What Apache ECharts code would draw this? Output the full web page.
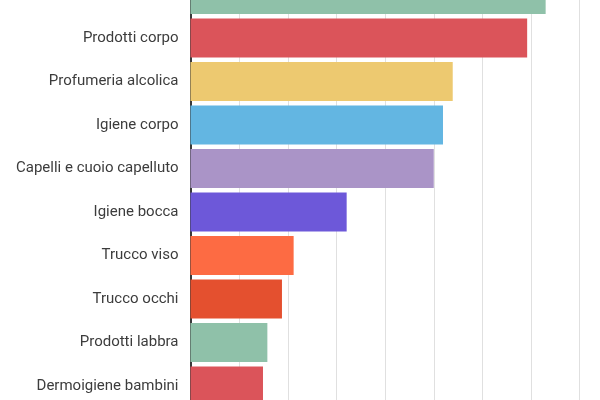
<!DOCTYPE html>
<html>
<head>
<meta charset="utf-8">
<script src="https://cdn.jsdelivr.net/npm/echarts@6/dist/echarts.min.js"></script>
<style>
html,body{margin:0;padding:0;width:600px;height:400px;overflow:hidden;background:#fff;}
#c{position:absolute;left:0;top:-40px;width:600px;height:480px;}
</style>
</head>
<body>
<div id="c"></div>
<script>
const categories = ["Prodotti viso","Prodotti corpo","Profumeria alcolica","Igiene corpo","Capelli e cuoio capelluto","Igiene bocca","Trucco viso","Trucco occhi","Prodotti labbra","Dermoigiene bambini"];
const values = [1460,1384,1078,1038,1000,642,424,376,316,298];
const palette = ["#8fc1a9","#db545a","#edc970","#63b6e2","#aa94c7","#6d58d9","#fd6b43","#e4502f"];

const chart = echarts.init(document.getElementById('c'), null, {renderer:'canvas'});
chart.setOption({
  animation:false,
  grid:{left:190.5, right:20.3, top:12.75, bottom:32.25, containLabel:false},
  xAxis:{
    type:'value', min:0, max:1600, interval:200,
    axisLine:{show:false}, axisTick:{show:false},
    axisLabel:{show:false},
    splitLine:{show:true, lineStyle:{color:'#e0e0e0', width:1}}
  },
  yAxis:{
    type:'category', data:categories, inverse:true,
    axisLine:{show:true, lineStyle:{color:'#3a3a3a', width:2}},
    axisTick:{show:false},
    axisLabel:{color:'#3c3c3c', fontFamily:'Roboto', fontSize:15, margin:12}
  },
  series:[{
    type:'bar',
    data:values.map((v,i)=>({value:v, itemStyle:{color:palette[i%palette.length]}})),
    barCategoryGap:'10%'
  }]
});
</script>
</body>
</html>
